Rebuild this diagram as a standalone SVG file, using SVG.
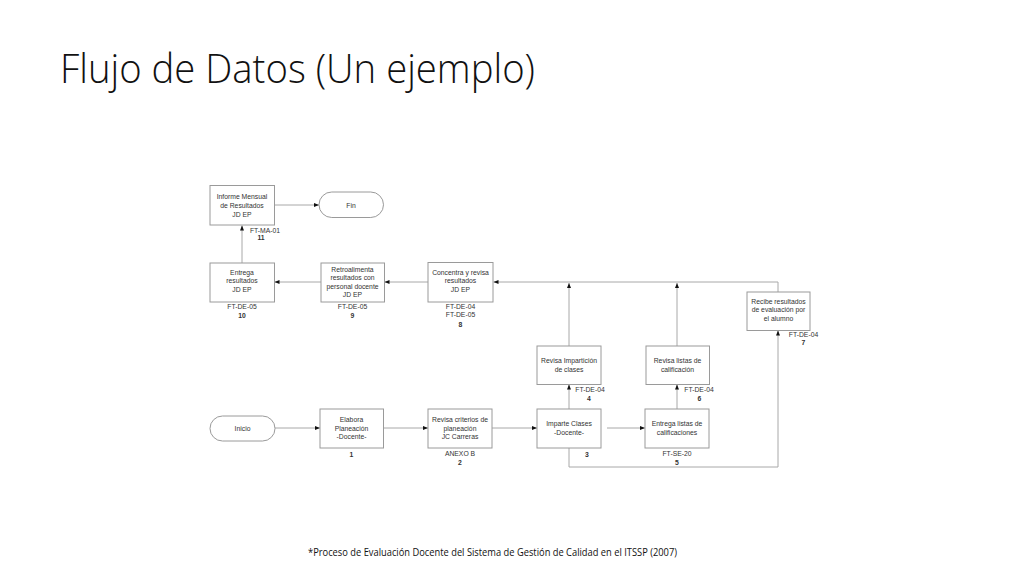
<svg xmlns="http://www.w3.org/2000/svg" width="1024" height="576" viewBox="0 0 1024 576">
<defs>
<style>
.box{fill:#fff;stroke:#9a9a9a;stroke-width:1}
.t{font-family:"Liberation Sans",Arial,sans-serif;font-size:6.8px;fill:#333;text-anchor:middle}
.b{font-weight:bold}
.c{fill:none;stroke:#a8a8a8;stroke-width:1}
.title{font-family:"Open Sans","Liberation Sans",sans-serif;font-weight:300;font-size:40px;fill:#111}
.foot{font-family:"Open Sans","Liberation Sans",sans-serif;font-size:10.5px;fill:#111}
</style>
<marker id="ah" markerUnits="userSpaceOnUse" markerWidth="6" markerHeight="5" refX="5" refY="2" orient="auto">
<path d="M0,0 L5,2 L0,4 z" fill="#111"/>
</marker>
</defs>
<rect width="1024" height="576" fill="#fff"/>
<text class="title" x="60" y="83" textLength="475" lengthAdjust="spacingAndGlyphs">Flujo de Datos (Un ejemplo)</text>

<g id="connectors">
<path class="c" d="M275,205 H319" marker-end="url(#ah)"/>
<path class="c" d="M242,263 V225.5" marker-end="url(#ah)"/>
<path class="c" d="M321,282 H274.5" marker-end="url(#ah)"/>
<path class="c" d="M428,282 H384.5" marker-end="url(#ah)"/>
<path class="c" d="M778,292 V282 H493.5" marker-end="url(#ah)"/>
<path class="c" d="M569,346 V283" marker-end="url(#ah)"/>
<path class="c" d="M677,346 V283" marker-end="url(#ah)"/>
<path class="c" d="M569,409 V384.5" marker-end="url(#ah)"/>
<path class="c" d="M677,409 V384.5" marker-end="url(#ah)"/>
<path class="c" d="M569,448 V467 H778 V330.5" marker-end="url(#ah)"/>
<path class="c" d="M275,428 H320" marker-end="url(#ah)"/>
<path class="c" d="M383,428 H428" marker-end="url(#ah)"/>
<path class="c" d="M492,428 H537" marker-end="url(#ah)"/>
<path class="c" d="M607,428 H645" marker-end="url(#ah)"/>
</g>

<g id="n11">
<rect class="box" x="210" y="185.5" width="64.5" height="39.5"/>
<text class="t" x="242" y="198.5">Informe Mensual</text>
<text class="t" x="242" y="207.5">de Resultados</text>
<text class="t" x="242" y="216.5">JD EP</text>
<text class="t" x="265" y="232.5">FT-MA-01</text>
<text class="t b" x="261" y="240">11</text>
</g>
<g id="fin">
<rect class="box" x="319" y="192" width="64.5" height="25.5" rx="12.75"/>
<text class="t" x="351" y="207.5">Fin</text>
</g>
<g id="n10">
<rect class="box" x="210" y="263" width="64.5" height="39"/>
<text class="t" x="242" y="274.5">Entrega</text>
<text class="t" x="242" y="283">resultados</text>
<text class="t" x="242" y="291.5">JD EP</text>
<text class="t" x="242" y="309">FT-DE-05</text>
<text class="t b" x="242" y="317.5">10</text>
</g>
<g id="n9">
<rect class="box" x="321" y="263" width="63.5" height="39"/>
<text class="t" x="352.5" y="271.5">Retroalimenta</text>
<text class="t" x="352.5" y="280">resultados con</text>
<text class="t" x="352.5" y="288.5">personal docente</text>
<text class="t" x="352.5" y="297">JD EP</text>
<text class="t" x="352.5" y="309">FT-DE-05</text>
<text class="t b" x="352.5" y="317.5">9</text>
</g>
<g id="n8">
<rect class="box" x="428" y="262.5" width="65" height="39.5"/>
<text class="t" x="460.5" y="274.5">Concentra y revisa</text>
<text class="t" x="460.5" y="283">resultados</text>
<text class="t" x="460.5" y="291.5">JD EP</text>
<text class="t" x="460.5" y="309">FT-DE-04</text>
<text class="t" x="460.5" y="317">FT-DE-05</text>
<text class="t b" x="460.5" y="327">8</text>
</g>
<g id="n7">
<rect class="box" x="747" y="292" width="63" height="38.5"/>
<text class="t" x="778.5" y="303.5">Recibe resultados</text>
<text class="t" x="778.5" y="312">de evaluación por</text>
<text class="t" x="778.5" y="320.5">el alumno</text>
<text class="t" x="803.5" y="336.5">FT-DE-04</text>
<text class="t b" x="803.5" y="345">7</text>
</g>
<g id="n4">
<rect class="box" x="537" y="346" width="64" height="38.5"/>
<text class="t" x="569" y="363">Revisa Impartición</text>
<text class="t" x="569" y="372">de clases</text>
<text class="t" x="590" y="392">FT-DE-04</text>
<text class="t b" x="589" y="401">4</text>
</g>
<g id="n6">
<rect class="box" x="646" y="346" width="63.5" height="38.5"/>
<text class="t" x="677.5" y="363">Revisa listas de</text>
<text class="t" x="677.5" y="372">calificación</text>
<text class="t" x="699" y="392">FT-DE-04</text>
<text class="t b" x="699.5" y="401">6</text>
</g>
<g id="inicio">
<rect class="box" x="210" y="416" width="65" height="25" rx="12.5"/>
<text class="t" x="242.5" y="430.5">Inicio</text>
</g>
<g id="n1">
<rect class="box" x="320" y="409" width="63.5" height="39"/>
<text class="t" x="351.5" y="422">Elabora</text>
<text class="t" x="351.5" y="430.5">Planeación</text>
<text class="t" x="351.5" y="439">-Docente-</text>
<text class="t b" x="351.5" y="456.5">1</text>
</g>
<g id="n2">
<rect class="box" x="428" y="409" width="64" height="39"/>
<text class="t" x="460" y="422">Revisa criterios de</text>
<text class="t" x="460" y="430.5">planeación</text>
<text class="t" x="460" y="439">JC Carreras</text>
<text class="t" x="460" y="456">ANEXO B</text>
<text class="t b" x="460" y="464.5">2</text>
</g>
<g id="n3">
<rect class="box" x="537" y="409" width="64" height="39"/>
<text class="t" x="569" y="426">Imparte Clases</text>
<text class="t" x="569" y="435">-Docente-</text>
<text class="t b" x="587" y="456.5">3</text>
</g>
<g id="n5">
<rect class="box" x="645" y="409" width="64" height="39"/>
<text class="t" x="677" y="426">Entrega listas de</text>
<text class="t" x="677" y="435">calificaciones</text>
<text class="t" x="677" y="456">FT-SE-20</text>
<text class="t b" x="677" y="464.5">5</text>
</g>

<text class="foot" x="308" y="555.5" textLength="369" lengthAdjust="spacingAndGlyphs">*Proceso de Evaluación Docente del Sistema de Gestión de Calidad en el ITSSP (2007)</text>
</svg>
